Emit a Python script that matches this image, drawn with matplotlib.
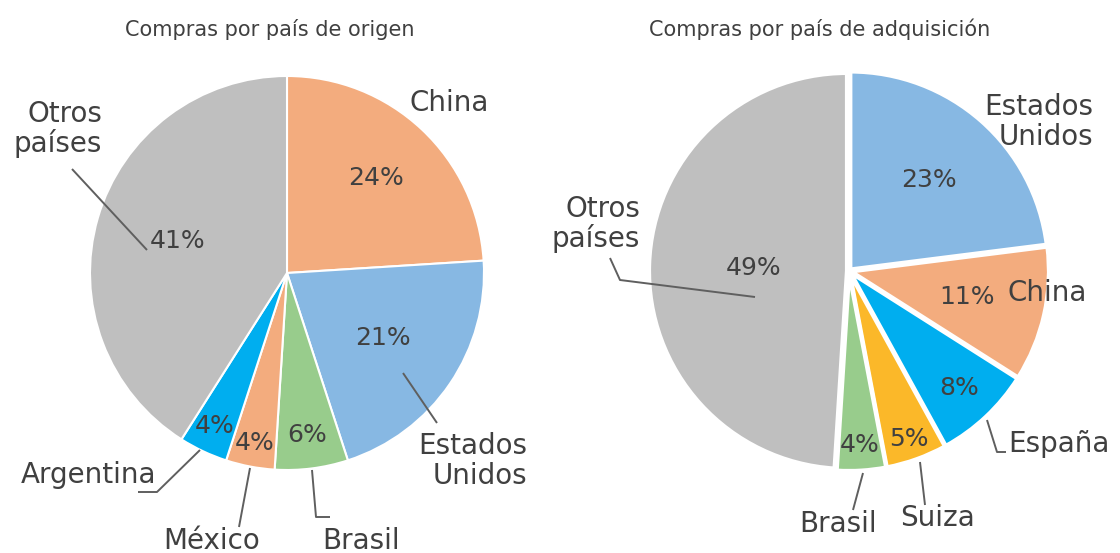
import matplotlib.pyplot as plt
import numpy as np

# Compras por país de origen
origen_paises = ["China", "Estados\nUnidos", "Brasil", "México", "Argentina", "Otros\npaíses"]
origen_pct = [24, 21, 6, 4, 4, 41]

# Compras por país de adquisición
adq_paises = ["Estados\nUnidos", "China", "España", "Suiza", "Brasil", "Otros\npaíses"]
adq_pct = [23, 11, 8, 5, 4, 49]

GRAY = "#bfbfbf"
ORANGE = "#f3ac7e"
BLUE = "#87b8e3"
GREEN = "#98cc8c"
CYAN = "#00aeef"
YELLOW = "#fbb829"
TEXT = "#404040"
LINE = "#5f5f5f"

origen_colors = [ORANGE, BLUE, GREEN, ORANGE, CYAN, GRAY]
adq_colors = [BLUE, ORANGE, CYAN, YELLOW, GREEN, GRAY]

W, H = 1120, 553


def fy(y):
    """Convert a top-down pixel row to the axes' y coordinate."""
    return H - y


def draw_pie(ax, values, colors, center, radius, pct_dist, edge_lw, explode):
    cx, cy = center
    wedges, _ = ax.pie(values, colors=colors, startangle=90, counterclock=False,
                       center=(cx, fy(cy)), radius=radius, explode=explode,
                       wedgeprops=dict(edgecolor="white", linewidth=edge_lw))
    for w, v, d in zip(wedges, values, pct_dist):
        ang = np.deg2rad((w.theta1 + w.theta2) / 2)
        wx, wy = w.center
        ax.text(wx + d * radius * np.cos(ang), wy + d * radius * np.sin(ang),
                f"{v}%", ha="center", va="center", fontsize=18, color=TEXT)
    return wedges


def leader(ax, pts):
    xs = [p[0] for p in pts]
    ys = [fy(p[1]) for p in pts]
    ax.plot(xs, ys, color=LINE, lw=1.4, solid_capstyle="butt")


def label(ax, x, y, text, ha="center"):
    ax.text(x, fy(y), text, ha=ha, va="center", fontsize=20, color=TEXT,
            linespacing=1.08, multialignment="right" if ha == "right" else "center")


fig = plt.figure(figsize=(W / 100, H / 100), dpi=100)
ax = fig.add_axes([0, 0, 1, 1])

# Left pie
draw_pie(ax, origen_pct, origen_colors, (287, 273), 197,
         [0.66, 0.59, 0.83, 0.88, 0.86, 0.58], 1.5, [0] * 6)
ax.text(270, fy(29), "Compras por país de origen", ha="center", va="center",
        fontsize=15, color=TEXT)
label(ax, 449, 103, origen_paises[0])
label(ax, 527, 461, origen_paises[1], ha="right")
label(ax, 361, 541, origen_paises[2])
label(ax, 212, 541, origen_paises[3])
label(ax, 89, 475, origen_paises[4])
label(ax, 102, 129, origen_paises[5], ha="right")
leader(ax, [(403, 373), (437, 423)])
leader(ax, [(312, 470), (316, 517), (330, 517)])
leader(ax, [(250, 468), (239, 527)])
leader(ax, [(200, 450), (157, 492), (138, 492)])
leader(ax, [(72, 169), (147, 250)])

# Right pie
draw_pie(ax, adq_pct, adq_colors, (849, 271), 198,
         [0.6, 0.6, 0.8, 0.89, 0.87, 0.47], 3, [2] * 6)
ax.text(820, fy(29), "Compras por país de adquisición", ha="center", va="center",
        fontsize=15, color=TEXT)
label(ax, 1093, 122, adq_paises[0], ha="right")
label(ax, 1047, 293, adq_paises[1])
label(ax, 1008, 444, adq_paises[2], ha="left")
label(ax, 937, 518, adq_paises[3])
label(ax, 838, 524, adq_paises[4])
label(ax, 640, 224, adq_paises[5], ha="right")
leader(ax, [(987, 420), (997, 452), (1006, 452)])
leader(ax, [(920, 462), (925, 505)])
leader(ax, [(863, 473), (853, 510)])
leader(ax, [(610, 258), (620, 280), (755, 297)])

ax.set_xlim(0, W)
ax.set_ylim(0, H)
ax.set_aspect("equal")
ax.axis("off")

fig.savefig("out.png", dpi=100)
